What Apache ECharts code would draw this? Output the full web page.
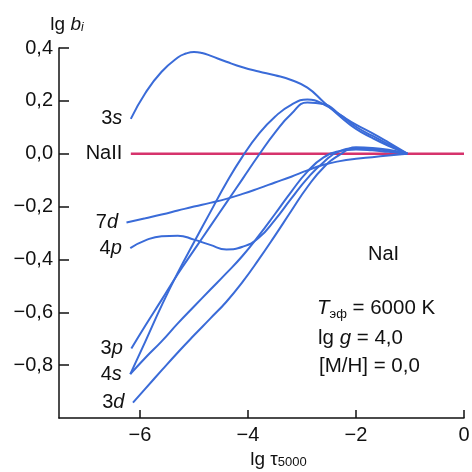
<!DOCTYPE html>
<html>
<head>
<meta charset="utf-8">
<script src="https://cdn.jsdelivr.net/npm/echarts@6.0.0/dist/echarts.min.js"></script>
<style>
  html, body { margin: 0; padding: 0; background: #fff; }
  #chart { width: 472px; height: 472px; }
</style>
</head>
<body>
<div id="chart"></div>
<script>
// lg tau5000 / lg b_i
var tau3s = [-6.17, -5.9, -5.6, -5.3, -5.15, -5.0, -4.85, -4.7, -4.4, -4.1, -3.8, -3.5, -3.2, -2.9, -2.6, -2.3, -2.0, -1.7, -1.4, -1.05];
var b3s   = [0.132, 0.23, 0.31, 0.364, 0.379, 0.385, 0.381, 0.371, 0.348, 0.327, 0.311, 0.297, 0.279, 0.25, 0.196, 0.142, 0.094, 0.06, 0.03, 0];

var tau4sA = [-6.18, -5.9, -5.6, -5.3, -5.0, -4.7, -4.4, -4.1, -3.8, -3.5, -3.2, -2.9, -2.6, -2.3, -2.0, -1.7, -1.4, -1.05];
var b4sA   = [-0.834, -0.71, -0.575, -0.45, -0.335, -0.222, -0.11, -0.01, 0.075, 0.14, 0.185, 0.205, 0.187, 0.148, 0.11, 0.078, 0.043, 0];

var tau3p = [-6.16, -5.9, -5.6, -5.3, -5.0, -4.7, -4.4, -4.1, -3.8, -3.5, -3.2, -2.9, -2.6, -2.3, -2.0, -1.7, -1.4, -1.05];
var b3p   = [-0.737, -0.65, -0.553, -0.455, -0.365, -0.275, -0.185, -0.095, -0.005, 0.08, 0.15, 0.194, 0.188, 0.148, 0.102, 0.068, 0.036, 0];

var tau4sB = [-6.18, -5.9, -5.6, -5.3, -5.0, -4.7, -4.4, -4.1, -3.8, -3.5, -3.2, -2.9, -2.6, -2.3, -2.0, -1.7, -1.4, -1.05];
var b4sB   = [-0.834, -0.772, -0.71, -0.642, -0.578, -0.515, -0.452, -0.386, -0.31, -0.228, -0.144, -0.068, -0.014, 0.01, 0.016, 0.013, 0.007, 0];

var tau4p = [-6.18, -5.9, -5.6, -5.3, -5.0, -4.7, -4.4, -4.1, -3.8, -3.5, -3.2, -2.9, -2.6, -2.3, -2.0, -1.7, -1.4, -1.05];
var b4p   = [-0.357, -0.328, -0.312, -0.31, -0.325, -0.345, -0.362, -0.352, -0.318, -0.25, -0.17, -0.093, -0.032, 0.01, 0.02, 0.018, 0.011, 0];

var tau3d = [-6.13, -5.9, -5.6, -5.3, -5.0, -4.7, -4.4, -4.1, -3.8, -3.5, -3.2, -2.9, -2.6, -2.3, -2.0, -1.7, -1.4, -1.05];
var b3d   = [-0.942, -0.889, -0.82, -0.752, -0.687, -0.624, -0.56, -0.485, -0.4, -0.31, -0.217, -0.126, -0.052, -0.004, 0.024, 0.022, 0.015, 0];

var tau7d = [-6.25, -5.9, -5.6, -5.3, -5.0, -4.7, -4.4, -4.1, -3.8, -3.5, -3.2, -2.9, -2.6, -2.3, -2.0, -1.7, -1.4, -1.05];
var b7d   = [-0.26, -0.244, -0.23, -0.215, -0.2, -0.186, -0.171, -0.152, -0.131, -0.109, -0.087, -0.063, -0.042, -0.028, -0.019, -0.013, -0.007, 0];

var tauNa2 = [-6.17, 0];
var bNa2   = [0, 0];

// подписи уровней у левых концов кривых
var levelNames = ['{n|NaII}', '{n|3}{i|s}', '{n|7}{i|d}', '{n|4}{i|p}', '{n|3}{i|p}', '{n|4}{i|s}', '{n|3}{i|d}'];
var levelTau   = [-6.17, -6.17, -6.25, -6.18, -6.16, -6.18, -6.13];
var levelB     = [0, 0.132, -0.26, -0.357, -0.737, -0.834, -0.942];

var xTicks = [-6, -4, -2, 0];
var yTicks = [-0.8, -0.6, -0.4, -0.2, 0, 0.2, 0.4];

var FONT = '"Liberation Sans", Arial, sans-serif';
var INK = '#111111';
var BLUE = '#3a6bd8';
var PINK = '#d6336c';

function num(v) {
    return v.toFixed(1).replace('.', ',').replace('-', '\u2212');
}

function zip(xs, ys) {
    var out = [];
    for (var i = 0; i < xs.length; i++) out.push([xs[i], ys[i]]);
    return out;
}

function curve(xs, ys) {
    return {
        type: 'line',
        smooth: 0.5,
        symbol: 'none',
        lineStyle: { color: BLUE, width: 2 },
        data: zip(xs, ys),
        z: 3
    };
}

var labelData = [];
for (var k = 0; k < levelNames.length; k++) {
    labelData.push({ value: [levelTau[k], levelB[k]], name: levelNames[k] });
}

var myChart = echarts.init(document.getElementById('chart'));
myChart.setOption({
    animation: false,
    backgroundColor: '#fff',
    grid: { left: 59, right: 8, top: 48, bottom: 54, containLabel: false, outerBoundsMode: 'none' },
    xAxis: {
        type: 'value',
        min: -7.5,
        max: 0,
        name: '{a|lg \u03c4}{s|5000}',
        nameLocation: 'middle',
        nameGap: 23,
        nameTextStyle: {
            padding: [0, 0, 0, 34],
            rich: {
                a: { fontFamily: FONT, fontSize: 19, color: INK },
                s: { fontFamily: FONT, fontSize: 13, color: INK, verticalAlign: 'bottom', lineHeight: 12 }
            }
        },
        axisLine: { onZero: false, lineStyle: { color: INK, width: 1.5 } },
        axisTick: { inside: true, length: 8, customValues: xTicks, lineStyle: { color: INK, width: 1.5 } },
        axisLabel: {
            customValues: xTicks,
            margin: 7,
            fontFamily: FONT,
            fontSize: 20,
            color: INK,
            formatter: function (v) { return v === 0 ? '0' : String(v).replace('-', '\u2212'); }
        },
        splitLine: { show: false }
    },
    yAxis: {
        type: 'value',
        min: -1,
        max: 0.4,
        name: '{a|lg }{b|b}{c|i}',
        nameLocation: 'end',
        nameGap: 14,
        nameTextStyle: {
            padding: [0, 0, 0, 16],
            rich: {
                a: { fontFamily: FONT, fontSize: 19, color: INK },
                b: { fontFamily: FONT, fontSize: 19, fontStyle: 'italic', color: INK },
                c: { fontFamily: FONT, fontSize: 12, fontStyle: 'italic', color: INK, verticalAlign: 'bottom', lineHeight: 10 }
            }
        },
        axisLine: { show: true, onZero: false, lineStyle: { color: INK, width: 1.5 } },
        axisTick: { show: true, inside: true, length: 10, customValues: yTicks, lineStyle: { color: INK, width: 1.5 } },
        axisLabel: {
            customValues: yTicks,
            margin: 6,
            fontFamily: FONT,
            fontSize: 20,
            color: INK,
            formatter: function (v) { return num(v); }
        },
        splitLine: { show: false }
    },
    graphic: [
        {
            type: 'text', left: 368, top: 244,
            style: { text: 'NaI', font: '20px ' + FONT, fill: INK }
        },
        {
            type: 'text', left: 317, top: 298,
            style: {
                text: '{t|T}{s|\u044d\u0444}{r| = 6000 K}',
                rich: {
                    t: { fontFamily: FONT, fontSize: 20.5, fontStyle: 'italic', fill: INK, lineHeight: 24 },
                    s: { fontFamily: FONT, fontSize: 13, fill: INK, verticalAlign: 'bottom', lineHeight: 14 },
                    r: { fontFamily: FONT, fontSize: 20.5, fill: INK, lineHeight: 24 }
                }
            }
        },
        {
            type: 'text', left: 318, top: 328,
            style: {
                text: '{r|lg }{t|g}{r| = 4,0}',
                rich: {
                    t: { fontFamily: FONT, fontSize: 20.5, fontStyle: 'italic', fill: INK, lineHeight: 24 },
                    r: { fontFamily: FONT, fontSize: 20.5, fill: INK, lineHeight: 24 }
                }
            }
        },
        {
            type: 'text', left: 319, top: 356,
            style: { text: '[M/H] = 0,0', font: '20.5px ' + FONT, fill: INK }
        }
    ],
    series: [
        {
            type: 'line',
            symbol: 'none',
            lineStyle: { color: PINK, width: 2.5 },
            data: zip(tauNa2, bNa2),
            z: 2
        },
        curve(tau3s, b3s),
        curve(tau7d, b7d),
        curve(tau4p, b4p),
        curve(tau3p, b3p),
        curve(tau4sA, b4sA),
        curve(tau4sB, b4sB),
        curve(tau3d, b3d),
        {
            type: 'scatter',
            symbolSize: 1,
            itemStyle: { color: '#ffffff', opacity: 0 },
            silent: true,
            label: {
                show: true,
                position: 'left',
                distance: 8,
                color: INK,
                opacity: 1,
                formatter: function (p) { return p.name; },
                rich: {
                    n: { fontFamily: FONT, fontSize: 20, color: INK },
                    i: { fontFamily: FONT, fontSize: 20, fontStyle: 'italic', color: INK }
                }
            },
            data: labelData,
            z: 5
        }
    ]
});
</script>
</body>
</html>
